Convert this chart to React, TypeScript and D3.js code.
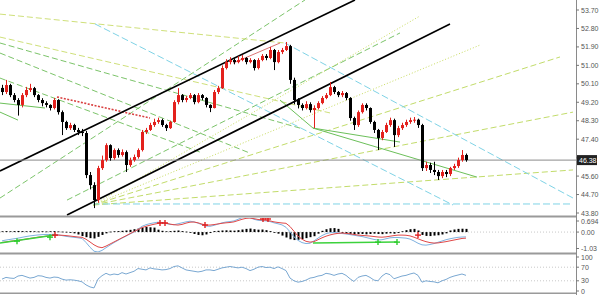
import React from 'react';
import * as d3 from 'd3';

// ---------- price bars ----------
const firstOpen = 49.9;
const closes = [
  49.70, 50.04, 49.55, 49.31, 49.07, 49.55, 49.80, 49.89, 49.55, 49.31,
  49.16, 49.07, 48.92, 49.31, 48.72, 48.24, 47.94, 48.09, 47.85, 47.75,
  47.70, 45.65, 45.16, 44.43, 45.99, 46.38, 47.11, 46.48, 46.87, 46.63,
  46.77, 46.14, 46.38, 46.53, 46.87, 47.75, 47.85, 48.09, 48.24, 48.33,
  48.09, 47.94, 48.24, 49.21, 49.55, 49.31, 49.41, 49.55, 49.21, 49.55,
  49.41, 49.07, 48.92, 49.70, 49.89, 50.87, 51.16, 51.26, 51.16, 51.26,
  51.36, 51.16, 51.26, 50.87, 51.26, 51.46, 51.36, 51.75, 51.16, 51.65,
  51.75, 51.94, 50.29, 49.31, 49.07, 48.92, 49.11, 48.82, 48.92, 49.16,
  49.41, 49.55, 49.94, 49.70, 49.55, 49.65, 49.41, 48.43, 48.09, 48.72,
  49.07, 48.92, 48.24, 47.85, 47.46, 47.75, 48.09, 48.33, 47.60, 47.94,
  48.09, 48.24, 48.33, 48.35, 48.09, 45.99, 46.14, 45.90, 45.80, 45.60,
  45.80, 45.70, 45.99, 46.09, 46.38, 46.63, 46.38,
];
const highs = [
  50.05, 50.29, 50.10, 49.65, 49.40, 49.65, 49.95, 50.10, 49.95, 49.60,
  49.40, 49.25, 49.10, 49.41, 49.35, 48.80, 48.30, 48.20, 48.15, 47.95,
  47.90, 47.80, 45.80, 45.30, 46.10, 46.60, 47.20, 47.15, 46.95, 46.95,
  46.90, 46.85, 46.50, 46.65, 46.95, 47.85, 47.95, 48.20, 48.40, 48.45,
  48.40, 48.15, 48.30, 49.30, 49.89, 49.60, 49.50, 49.65, 49.60, 49.65,
  49.60, 49.45, 49.10, 49.80, 50.00, 51.00, 51.30, 51.40, 51.35, 51.45,
  51.50, 51.40, 51.35, 51.30, 51.35, 51.55, 51.55, 51.90, 51.80, 51.75,
  51.85, 52.14, 52.00, 50.40, 49.40, 49.15, 49.25, 49.20, 49.05, 49.25,
  49.50, 49.65, 50.19, 50.00, 49.75, 49.75, 49.70, 49.45, 48.50, 48.80,
  49.15, 49.15, 48.95, 48.30, 47.90, 47.85, 48.20, 48.45, 48.40, 48.05,
  48.20, 48.35, 48.45, 48.48, 48.40, 48.15, 46.30, 46.25, 46.30, 45.90,
  45.90, 45.90, 46.05, 46.20, 46.50, 46.87, 46.70,
];
const lows = [
  49.55, 49.60, 49.45, 49.20, 48.55, 48.95, 49.45, 49.70, 49.45, 49.20,
  49.00, 48.95, 48.80, 48.85, 48.60, 47.60, 47.85, 47.85, 47.75, 47.60,
  47.55, 45.50, 44.95, 44.04, 44.30, 45.90, 46.30, 46.35, 46.40, 46.50,
  46.55, 45.80, 46.05, 46.30, 46.45, 46.80, 47.65, 47.80, 48.00, 48.15,
  48.00, 47.80, 47.90, 48.20, 49.10, 49.20, 49.20, 49.35, 49.10, 49.15,
  49.30, 48.95, 48.72, 48.90, 49.60, 49.85, 50.80, 51.05, 51.05, 51.10,
  51.20, 51.05, 51.10, 50.75, 50.80, 51.20, 51.25, 51.30, 50.77, 51.10,
  51.55, 51.70, 50.10, 49.10, 48.90, 48.80, 48.85, 48.70, 47.94, 48.85,
  49.10, 49.35, 49.50, 49.60, 49.45, 49.45, 49.30, 48.30, 47.85, 48.00,
  48.65, 48.80, 48.15, 47.70, 46.87, 47.35, 47.70, 48.00, 47.02, 47.50,
  47.85, 48.00, 48.15, 48.20, 47.95, 45.85, 45.85, 45.75, 45.65, 45.41,
  45.50, 45.55, 45.60, 45.90, 46.00, 46.30, 46.30,
];
const lastPrice = 46.38;
const priceTicks = [53.7, 52.8, 51.9, 51.0, 50.1, 49.2, 48.3, 47.4, 46.5, 45.6, 44.7, 43.8];

// ---------- MACD ----------
const macdMain = [
  -0.55, -0.50, -0.46, -0.42, -0.38, -0.33, -0.28, -0.24, -0.21, -0.18,
  -0.16, -0.15, -0.15, -0.14, -0.17, -0.22, -0.27, -0.30, -0.33, -0.36,
  -0.40, -0.65, -0.95, -1.20, -1.25, -1.15, -0.98, -0.82, -0.66, -0.52,
  -0.38, -0.26, -0.12, 0.00, 0.18, 0.36, 0.46, 0.53, 0.58, 0.62,
  0.60, 0.54, 0.48, 0.46, 0.52, 0.58, 0.64, 0.68, 0.64, 0.56,
  0.46, 0.38, 0.36, 0.42, 0.50, 0.58, 0.63, 0.66, 0.70, 0.80,
  0.90, 0.95, 0.90, 0.80, 0.74, 0.72, 0.70, 0.66, 0.58, 0.52,
  0.45, 0.30, 0.02, -0.30, -0.52, -0.66, -0.72, -0.70, -0.55, -0.38,
  -0.22, -0.10, -0.04, -0.03, -0.05, -0.09, -0.12, -0.16, -0.20, -0.24,
  -0.28, -0.34, -0.40, -0.46, -0.50, -0.48, -0.42, -0.36, -0.34, -0.34,
  -0.36, -0.38, -0.44, -0.56, -0.70, -0.80, -0.82, -0.78, -0.72, -0.64,
  -0.56, -0.48, -0.42, -0.37, -0.33, -0.31, -0.30,
];
const macdSignal = [
  -0.65, -0.62, -0.58, -0.55, -0.52, -0.48, -0.44, -0.40, -0.36, -0.32,
  -0.29, -0.26, -0.23, -0.20, -0.19, -0.20, -0.22, -0.25, -0.28, -0.31,
  -0.33, -0.45, -0.62, -0.80, -0.93, -0.98, -0.88, -0.75, -0.62, -0.49,
  -0.36, -0.23, -0.10, 0.03, 0.16, 0.28, 0.36, 0.43, 0.49, 0.54,
  0.57, 0.56, 0.50, 0.46, 0.44, 0.48, 0.56, 0.62, 0.63, 0.58,
  0.50, 0.44, 0.44, 0.47, 0.51, 0.55, 0.58, 0.60, 0.64, 0.72,
  0.80, 0.86, 0.88, 0.84, 0.79, 0.76, 0.74, 0.70, 0.64, 0.60,
  0.57, 0.55, 0.35, 0.05, -0.25, -0.45, -0.58, -0.63, -0.60, -0.48,
  -0.36, -0.26, -0.18, -0.12, -0.08, -0.06, -0.08, -0.11, -0.15, -0.19,
  -0.21, -0.23, -0.25, -0.28, -0.31, -0.32, -0.30, -0.26, -0.22, -0.19,
  -0.19, -0.20, -0.24, -0.32, -0.42, -0.52, -0.60, -0.66, -0.69, -0.68,
  -0.64, -0.60, -0.55, -0.50, -0.45, -0.40, -0.38,
];
const macdHist = [
  0.05, 0.06, 0.05, 0.06, 0.07, 0.06, 0.05, 0.06, 0.05, 0.04,
  0.05, 0.04, 0.05, 0.06, 0.04, 0.03, 0.02, -0.03, -0.08, -0.15,
  -0.25, -0.32, -0.38, -0.40, -0.30, -0.18, -0.08, 0.03, 0.05, 0.06,
  0.08, 0.10, 0.14, 0.18, 0.22, 0.28, 0.32, 0.30, 0.28, 0.15,
  0.08, 0.05, 0.06, 0.08, 0.10, 0.06, 0.03, -0.05, -0.12, -0.18,
  -0.20, -0.15, -0.06, 0.06, 0.08, 0.10, 0.11, 0.10, 0.09, 0.12,
  0.16, 0.20, 0.22, 0.18, 0.15, 0.16, 0.12, 0.06, 0.00, -0.10,
  -0.22, -0.34, -0.45, -0.50, -0.48, -0.44, -0.38, -0.32, -0.26, -0.10,
  0.08, 0.18, 0.24, 0.25, 0.20, -0.05, -0.10, -0.14, -0.15, -0.13,
  -0.12, -0.14, -0.12, -0.10, -0.12, -0.13, -0.10, -0.08, -0.10, -0.06,
  0.05, 0.12, 0.18, 0.20, 0.10, -0.18, -0.24, -0.25, -0.22, -0.20,
  -0.15, -0.08, 0.10, 0.16, 0.20, 0.21, 0.20,
];
const macdTicks = [0.694, 0.0, -1.03];
const macdTickLabels = ['0.694', '0.00', '-1.03'];
const macdGreenLines = [[-0.5, -0.69, 13.25, -0.19], [77.75, -0.69, 98.75, -0.63]];
const macdGreenMarks = [[3.75, -0.57], [12, -0.32], [94, -0.63], [98.75, -0.63]];
const macdRedMarks = [[13.25, -0.19], [39.5, 0.57], [40.75, 0.57], [50.75, 0.44], [65.25, 0.82], [66.5, 0.82], [104, -0.19]];

// ---------- RSI ----------
const rsi = [
  35, 40, 38, 37, 44, 46, 42, 38, 40, 45,
  44, 40, 38, 41, 40, 35, 32, 33, 32, 30,
  27, 18, 12, 9, 35, 45, 52, 47, 50, 48,
  54, 50, 54, 58, 66, 64, 62, 68, 65, 64,
  62, 63, 66, 72, 74, 68, 62, 60, 58, 56,
  58, 62, 62, 60, 64, 68, 70, 72, 70, 68,
  70, 66, 60, 64, 70, 72, 69, 70, 66, 71,
  66, 60, 38, 30, 26, 28, 32, 38, 40, 44,
  46, 52, 50, 46, 50, 52, 46, 36, 28, 40,
  44, 46, 40, 32, 30, 44, 52, 48, 36, 40,
  44, 46, 50, 53, 46, 26, 30, 28, 27, 24,
  30, 34, 40, 44, 47, 50, 46,
];
const rsiTicks = [100, 70, 30, 0];

// ---------- drawn objects on price chart: [bar1, price1, bar2, price2] ----------
const blackChannel = [[-0.5, 45.85, 88.25, 54.19], [16.25, 43.70, 112, 53.02]];
const cyanLines = [[23.25, 53.02, 112.75, 44.19], [70.75, 52.09, 142.75, 44.53], [22.75, 44.24, 142.75, 44.24]];
const peakLine = [[-0.5, 53.50, 70.75, 52.09]];
const fanOrigin = [22.75, 44.19];
const fanDotted = [[104.5, 53.41], [119.5, 51.99]];
const fanDashed = [[139.5, 51.41], [142.75, 48.72], [142.75, 45.90]];
const descYellow = [[-0.5, 52.38, 82, 48.68]];
const descGreen = [[-0.5, 52.09, 74.5, 47.94], [-0.5, 51.60, 62, 46.72], [-0.5, 50.38, 49.5, 46.77]];
const riseGreen = [[-0.5, 44.53, 75.75, 54.19], [16.25, 44.43, 99.5, 52.58]];
const redDashed = [[13.75, 49.46, 37, 48.43]];
const redThin = [[57.75, 51.11, 69.5, 52.09]];
const greenSolid = [
  [-0.5, 49.16, 10.75, 48.92], [-0.5, 48.72, 4, 48.33],
  [69.5, 49.31, 77.75, 47.94], [77.75, 47.94, 118.75, 45.55], [77.75, 47.94, 99.5, 47.26],
];

export default function App() {
  const n = closes.length;
  const x = d3.scaleLinear().domain([0, n - 1]).range([2, 466]);
  const y = d3.scaleLinear().domain([43.8, 53.7]).range([213, 10]);
  const ym = d3.scaleLinear().domain([-1.03, 0.694]).range([248.5, 221]);
  const yr = d3.scaleLinear().domain([0, 100]).range([291, 257]);
  const axisX = 576;
  const font = 'Liberation Sans, Arial, sans-serif';

  const seg = (d: number[], key: string, stroke: string, w: number, dash?: string) => (
    <line key={key} x1={x(d[0])} y1={y(d[1])} x2={x(d[2])} y2={y(d[3])} stroke={stroke} strokeWidth={w} strokeDasharray={dash} />
  );

  const mainLine = d3.line<number>().x((_, i) => x(i)).y((v) => ym(v));
  const rsiLine = d3.line<number>().x((_, i) => x(i)).y((v) => yr(v));

  const plus = (bx: number, v: number, color: string, k: string) => {
    const cx = x(bx), cy = ym(v);
    return (
      <g key={k} stroke={color} strokeWidth={1.4}>
        <line x1={cx - 3} y1={cy} x2={cx + 3} y2={cy} />
        <line x1={cx} y1={cy - 3} x2={cx} y2={cy + 3} />
      </g>
    );
  };

  // the tick label hidden under the current-price box is not drawn
  const visiblePriceTicks = priceTicks.filter((t) => Math.abs(y(t) - y(lastPrice)) > 7);

  return (
    <svg width={600} height={295} style={{ position: 'absolute', left: 0, top: 0, background: '#fff' }} fontFamily={font}>
      <defs>
        <clipPath id="mainClip"><rect x={0} y={0} width={axisX} height={216} /></clipPath>
        <clipPath id="macdClip"><rect x={0} y={218} width={axisX} height={34} /></clipPath>
        <clipPath id="rsiClip"><rect x={0} y={255} width={axisX} height={37} /></clipPath>
      </defs>

      {/* ---------- main price panel ---------- */}
      <g clipPath="url(#mainClip)">
        {descYellow.map((d, i) => seg(d, 'dy' + i, '#cfe07a', 1, '6,3'))}
        {descGreen.map((d, i) => seg(d, 'dg' + i, '#7cc46a', 1, '6,3'))}
        {riseGreen.map((d, i) => seg(d, 'rg' + i, '#7cc46a', 1, '6,3'))}
        {peakLine.map((d, i) => seg(d, 'pk' + i, '#cfe07a', 1, '6,3'))}
        {fanDotted.map((d, i) => seg([fanOrigin[0], fanOrigin[1], d[0], d[1]], 'fd' + i, '#c8dc60', 1, '1,2'))}
        {fanDashed.map((d, i) => seg([fanOrigin[0], fanOrigin[1], d[0], d[1]], 'fs' + i, '#c2dc6a', 1, '6,3'))}
        {cyanLines.map((d, i) => seg(d, 'cy' + i, '#7fd3e6', 1, '7,3'))}
        {greenSolid.map((d, i) => seg(d, 'gs' + i, '#6cc05a', 1))}
        {redDashed.map((d, i) => seg(d, 'rd' + i, '#d94040', 1.6, '2,1.5'))}
        {redThin.map((d, i) => seg(d, 'rt' + i, '#d05050', 0.8))}
        {blackChannel.map((d, i) => seg(d, 'bc' + i, '#000', 1.6))}
        {/* bid line */}
        <line x1={0} x2={axisX} y1={y(lastPrice)} y2={y(lastPrice)} stroke="#8a8a8a" strokeWidth={1} />
        {/* candles */}
        {closes.map((c, i) => {
          const o = i === 0 ? firstOpen : closes[i - 1];
          const up = c >= o;
          const col = up ? '#e3211d' : '#000';
          const cx = Math.round(x(i)) + 0.5;
          const top = y(Math.max(o, c));
          const bot = y(Math.min(o, c));
          return (
            <g key={'c' + i}>
              <line x1={cx} x2={cx} y1={y(highs[i])} y2={y(lows[i])} stroke={col} strokeWidth={1} />
              <rect x={cx - 1.5} y={top} width={3} height={Math.max(1, bot - top)} fill={col} />
            </g>
          );
        })}
      </g>

      {/* ---------- MACD panel ---------- */}
      <g clipPath="url(#macdClip)">
        <line x1={0} x2={axisX} y1={ym(0)} y2={ym(0)} stroke="#c8c8c8" strokeDasharray="1,2" />
        {macdHist.map((v, i) => (
          <rect key={'h' + i} x={Math.round(x(i)) - 0.5} width={2} y={Math.min(ym(0), ym(v))} height={Math.max(0.8, Math.abs(ym(v) - ym(0)))} fill="#000" />
        ))}
        <path d={mainLine(macdMain) || ''} fill="none" stroke="#7fb2e0" strokeWidth={1} />
        <path d={mainLine(macdSignal) || ''} fill="none" stroke="#e04848" strokeWidth={1} />
        {macdGreenLines.map((d, i) => (
          <line key={'mg' + i} x1={x(d[0])} y1={ym(d[1])} x2={x(d[2])} y2={ym(d[3])} stroke="#3cd23c" strokeWidth={1.5} />
        ))}
        {macdGreenMarks.map((d, i) => plus(d[0], d[1], '#2ecc2e', 'gm' + i))}
        {macdRedMarks.map((d, i) => plus(d[0], d[1], '#e02020', 'rm' + i))}
      </g>

      {/* ---------- RSI panel ---------- */}
      <g clipPath="url(#rsiClip)">
        {[70, 30].map((v) => (
          <line key={'rl' + v} x1={0} x2={axisX} y1={yr(v)} y2={yr(v)} stroke="#c8c8c8" strokeDasharray="1,2" />
        ))}
        <path d={rsiLine(rsi) || ''} fill="none" stroke="#7aa8d2" strokeWidth={1} />
      </g>

      {/* ---------- separators and axis ---------- */}
      <rect x={0} y={215.5} width={axisX} height={2} fill="#9a9a9a" />
      <rect x={0} y={252.5} width={axisX} height={2} fill="#9a9a9a" />
      <rect x={0} y={292.5} width={axisX} height={1.5} fill="#9a9a9a" />
      <line x1={axisX + 0.5} x2={axisX + 0.5} y1={0} y2={295} stroke="#8a8a8a" />

      <g fontSize={7} fill="#555">
        {priceTicks.map((t) => (
          <line key={'ptl' + t} x1={axisX} x2={axisX + 3} y1={y(t)} y2={y(t)} stroke="#777" />
        ))}
        {visiblePriceTicks.map((t) => (
          <text key={'pt' + t} x={axisX + 5} y={y(t) + 2.5}>{t.toFixed(2)}</text>
        ))}
        <rect x={axisX + 1} y={y(lastPrice) - 5} width={20} height={10} fill="#222" />
        <text x={axisX + 3} y={y(lastPrice) + 2.5} fill="#fff">{lastPrice.toFixed(2)}</text>
        {macdTicks.map((t, i) => (
          <g key={'mt' + i}>
            <line x1={axisX} x2={axisX + 3} y1={ym(t)} y2={ym(t)} stroke="#777" />
            <text x={axisX + 5} y={ym(t) + 2.5}>{macdTickLabels[i]}</text>
          </g>
        ))}
        {rsiTicks.map((t) => (
          <g key={'rt' + t}>
            <line x1={axisX} x2={axisX + 3} y1={yr(t)} y2={yr(t)} stroke="#777" />
            <text x={axisX + 5} y={yr(t) + 2.5}>{t}</text>
          </g>
        ))}
      </g>
    </svg>
  );
}
